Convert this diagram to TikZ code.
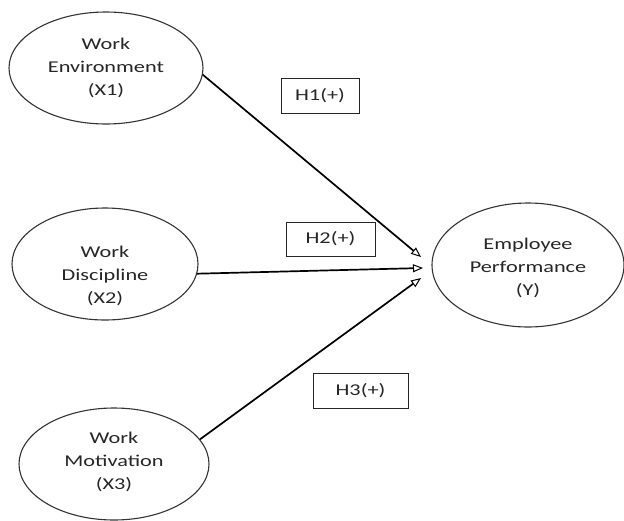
\documentclass[tikz,border=0pt]{standalone}
\usepackage{fontspec}
\setmainfont[FakeStretch=1.35]{Carlito}
\usetikzlibrary{arrows.meta,shapes.geometric}
\begin{document}
\begin{tikzpicture}[x=1pt,y=-1pt,
  varell/.style={draw=black!80,line width=1.1pt,ellipse,inner sep=0pt},
  vartext/.style={align=center,font=\fontsize{16.5}{23}\selectfont,text=black!85,inner sep=0pt},
  hypbox/.style={draw=black!85,line width=0.9pt,inner sep=0pt,font=\fontsize{16.5}{20}\selectfont,text=black!85},
  path/.style={line width=1.7pt,-{Triangle[open,length=10pt,width=8pt,line width=1pt]}}]
\useasboundingbox (0,0) rectangle (624,520);
% ellipses
\node[varell,minimum width=194pt,minimum height=112pt] (e1) at (106,68) {};
\node[varell,minimum width=186pt,minimum height=112pt] (e2) at (105,264) {};
\node[varell,minimum width=190pt,minimum height=112pt] (e3) at (114,464) {};
\node[varell,minimum width=192pt,minimum height=124pt] (ey) at (528,265) {};
% texts
\node[vartext] (e1t) at (106,68) {Work\\Environment\\(X1)};
\node[vartext] (e2t) at (105,276) {Work\\Discipline\\(X2)};
\node[vartext] (e3t) at (114,462) {Work\\Motivation\\(X3)};
\node[vartext] (eyt) at (528,268) {Employee\\Performance\\(Y)};
% hypothesis boxes
\node[hypbox,minimum width=78pt,minimum height=35pt] (h1) at (320,95.5) {H1(+)};
\node[hypbox,minimum width=89pt,minimum height=34pt] (h2) at (330.5,239) {H2(+)};
\node[hypbox,minimum width=95pt,minimum height=35pt] (h3) at (360.5,390.5) {H3(+)};
% arrow tips
\coordinate (t1) at (421,257);
\coordinate (t2) at (423,268);
\coordinate (t3) at (421,278);
\draw[path] (e1.-4) -- (t1);
\draw[path] (e2.-6) -- (t2);
\draw[path] (e3.16) -- (t3);
\end{tikzpicture}
\end{document}
